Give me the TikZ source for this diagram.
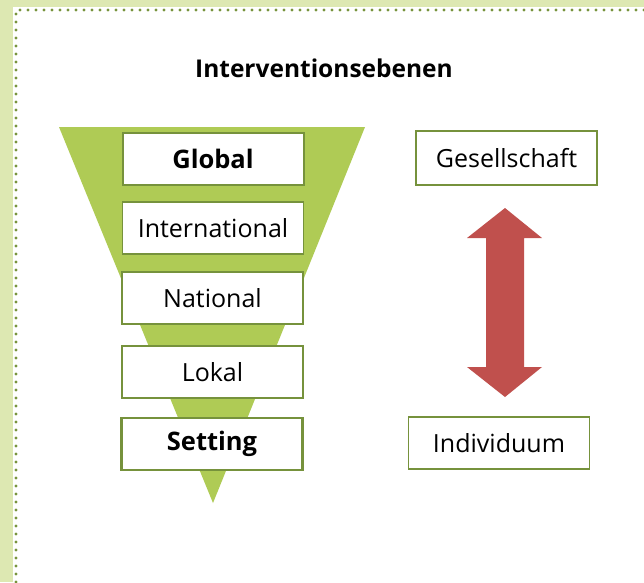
\documentclass[tikz,border=0pt]{standalone}
\usepackage{fontspec}
\setmainfont{Open Sans}
\definecolor{bandgreen}{HTML}{DDE8B2}
\definecolor{dotgreen}{HTML}{77933C}
\definecolor{funnelgreen}{HTML}{AFCB55}
\definecolor{boxgreen}{HTML}{76923C}
\definecolor{arrowred}{HTML}{C0504D}
\tikzset{
  levelbox/.style={draw=boxgreen, line width=1.5pt, fill=white, minimum width=181pt, minimum height=52pt, inner sep=0pt, font=\fontsize{25}{28}\selectfont},
  strongbox/.style={levelbox, line width=2.5pt, font=\fontsize{25.5}{28}\selectfont\bfseries},
}
\begin{document}
\begin{tikzpicture}[x=1pt,y=-1pt]
\useasboundingbox (0,0) rectangle (644,582);
\fill[bandgreen] (0,0) rectangle (644,582);
\fill[white] (13,7) rectangle (644,582);
\draw[dotgreen, line width=3.2pt, line cap=round, dash pattern=on 0pt off 8pt] (16,582) -- (16,10) -- (644,10);
\node[font=\fontsize{24.5}{28}\selectfont\bfseries] (title) at (324,68) {Interventionsebenen};
\fill[funnelgreen] (59,127) -- (365,127) -- (213,503) -- cycle;
\node[strongbox, line width=2pt] (global) at (213,159) {Global};
\node[levelbox] (intl) at (213,228) {International};
\node[levelbox] (natl) at (212.5,298) {National};
\node[levelbox] (lokal) at (212.5,372) {Lokal};
\node[strongbox] (setting) at (212,444) {Setting};
\node[levelbox, minimum height=54pt] (ges) at (506.5,158) {Gesellschaft};
\node[levelbox] (ind) at (499,443) {Individuum};
\fill[arrowred] (505,208) -- (542,238) -- (524,238) -- (524,367) -- (542,367) -- (505,397) -- (467,367) -- (486,367) -- (486,238) -- (467,238) -- cycle;
\end{tikzpicture}
\end{document}
